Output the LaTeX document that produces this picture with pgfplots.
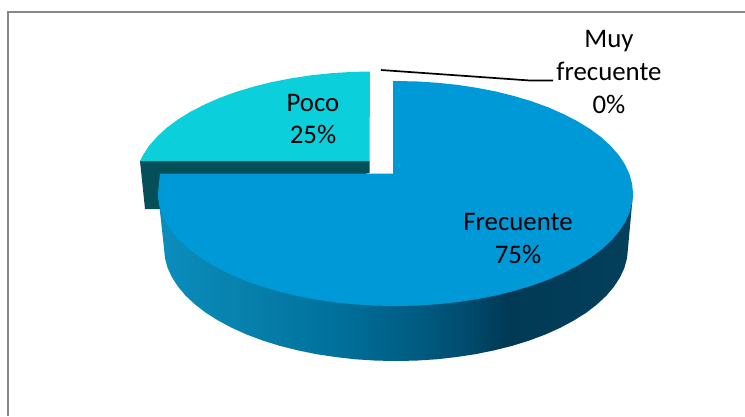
\documentclass[border=0pt]{standalone}
\usepackage{fontspec}
\setmainfont{Carlito}
\usepackage{pgfplots}
\pgfplotsset{compat=1.18}
\definecolor{topblue}{RGB}{0,153,216}
\definecolor{pocotop}{RGB}{12,207,220}
\definecolor{pocoside}{RGB}{5,80,88}
\definecolor{framegray}{RGB}{136,136,136}
\definecolor{sa}{RGB}{10,142,190}
\definecolor{sb}{RGB}{8,130,174}
\definecolor{sc}{RGB}{0,112,155}
\definecolor{sd}{RGB}{0,95,133}
\definecolor{se}{RGB}{0,74,108}
\definecolor{sf}{RGB}{0,58,85}
\definecolor{sg}{RGB}{4,63,91}
\pgfdeclarehorizontalshading{sideblue}{100bp}{
 color(0bp)=(sa);
 color(25bp)=(sa);
 color(33bp)=(sb);
 color(44bp)=(sc);
 color(51bp)=(sd);
 color(58bp)=(se);
 color(61.5bp)=(sf);
 color(75bp)=(sg);
 color(100bp)=(sg)}
\begin{document}
\begin{tikzpicture}
\begin{axis}[
  at={(0pt,0pt)},anchor=south west,
  scale only axis,width=745pt,height=416pt,
  xmin=0,xmax=745,ymin=0,ymax=416,y dir=reverse,
  axis lines=none,clip=true]
% background
\addplot[draw=none,fill=white] coordinates {(0,0)(745,0)(745,416)(0,416)} --cycle;
% frame
\addplot[framegray,line width=2pt] coordinates {(8,416)(8,12)(745,12)};
% Poco side
\addplot[draw=none,fill=pocoside] coordinates {(140,161)(369.5,161)(369.5,173)(200,209)(145,209)} --cycle;
% Poco top
\addplot[draw=none,fill=pocotop] coordinates {(370,71.5)(351.8,71.9)(331.3,73.2)(311,75.3)(291.3,78.3)(272.1,82)(253.7,86.6)(236.3,91.8)(219.8,97.8)(204.6,104.5)(190.6,111.7)(177.9,119.5)(166.8,127.7)(157.3,136.5)(149.3,145.5)(143.1,154.9)(140,161)(369.5,161)} --cycle;
% Frecuente side
\addplot[draw=none,shading=sideblue] coordinates {(633,193.5)(628,248)(627.1,257.8)(624.5,267.6)(620.1,277.2)(614,286.6)(606.3,295.8)(596.9,304.5)(586.1,312.8)(573.7,320.6)(560,327.9)(545.1,334.6)(529.1,340.6)(512,345.9)(494,350.4)(475.3,354.2)(456,357.1)(436.3,359.3)(416.2,360.6)(396,361)(375.8,360.6)(355.7,359.3)(336,357.1)(316.7,354.2)(298,350.4)(280,345.9)(262.9,340.6)(246.9,334.6)(232,327.9)(218.3,320.6)(205.9,312.8)(195.1,304.5)(185.7,295.8)(178,286.6)(171.9,277.2)(167.5,267.6)(164.9,257.8)(164,248)(158,193.5)} --cycle;
% Frecuente top
\addplot[draw=none,fill=topblue] coordinates {(393,173.5)(393,81)(416.2,81.4)(436.7,82.7)(457,84.8)(476.7,87.8)(495.9,91.5)(514.3,96.1)(531.7,101.3)(548.2,107.3)(563.4,114)(577.4,121.2)(590.1,129)(601.2,137.2)(610.7,146)(618.7,155)(624.9,164.4)(629.4,174)(632.1,183.7)(633,193.5)(632.1,203.3)(629.4,213)(624.9,222.6)(618.7,232)(610.7,241)(601.2,249.8)(590.1,258)(577.4,265.8)(563.4,273)(548.2,279.7)(531.7,285.7)(514.3,290.9)(495.9,295.5)(476.7,299.2)(457,302.2)(436.7,304.3)(416.2,305.6)(395.5,306)(374.8,305.6)(354.3,304.3)(334,302.2)(314.3,299.2)(295.1,295.5)(276.7,290.9)(259.3,285.7)(242.8,279.7)(227.6,273)(213.6,265.8)(200.9,258)(189.8,249.8)(180.3,241)(172.3,232)(166.1,222.6)(161.6,213)(158.9,203.3)(158,193.5)(158.9,183.7)(160,173.5)} --cycle;
% leader line
\addplot[black,line width=1.7pt] coordinates {(381,70)(530,80.5)(553,80.5)};
% labels
\node[align=center,font=\fontsize{26.8}{33}\selectfont,inner sep=0pt] at (axis cs:609,72) {Muy\\frecuente\\0\%};
\node[align=center,font=\fontsize{26.8}{32.5}\selectfont,inner sep=0pt] at (axis cs:313,119) {Poco\\25\%};
\node[align=center,font=\fontsize{26.8}{33}\selectfont,inner sep=0pt] at (axis cs:518,239) {Frecuente\\75\%};
\end{axis}
\end{tikzpicture}
\end{document}
